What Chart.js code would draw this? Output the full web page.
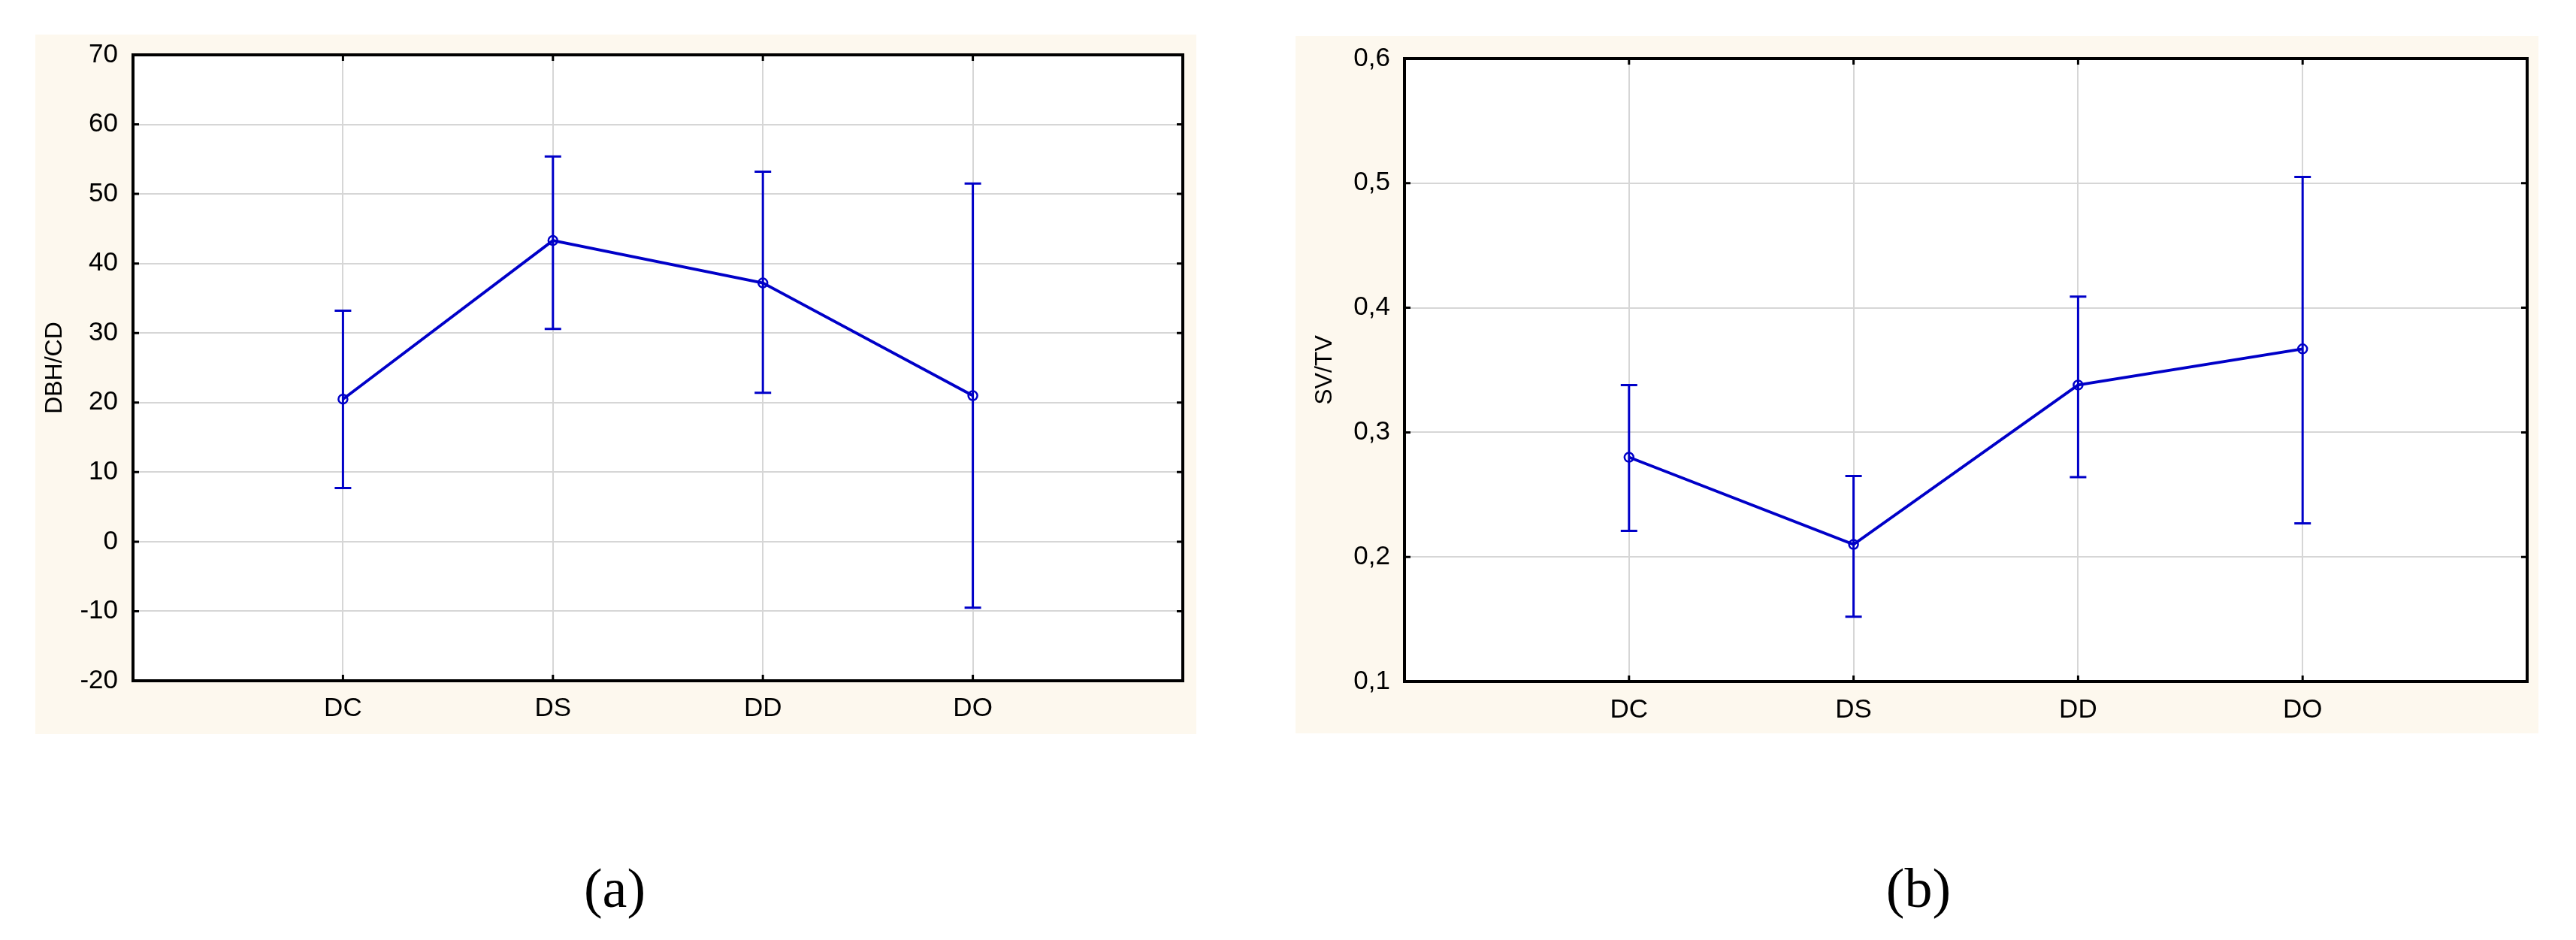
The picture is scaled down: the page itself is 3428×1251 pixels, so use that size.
<!DOCTYPE html>
<html>
<head>
<meta charset="utf-8">
<script src="https://cdn.jsdelivr.net/npm/chart.js@4.4.0/dist/chart.umd.min.js"></script>
<style>
  body { margin: 0; background: #fff; width: 3428px; height: 1251px; position: relative; overflow: hidden; }
  canvas { position: absolute; }
  #chartA { left: 47px; top: 46px; }
  #chartB { left: 1724px; top: 48px; }
  .cap { position: absolute; top: 1182px; transform: translate(-50%, -50%); font-family: "Liberation Serif", serif; font-size: 74px; color: #000; }
</style>
</head>
<body>
<canvas id="chartA" width="1545" height="931"></canvas>
<canvas id="chartB" width="1654" height="928"></canvas>
<div class="cap" style="left:818px">(a)</div>
<div class="cap" style="left:2553px">(b)</div>

<script>
const categories = ["DC", "DS", "DD", "DO"];

// panel (a) DBH/CD
const dbhMean = [20.5, 43.3, 37.2, 21.0];
const dbhUpper = [33.2, 55.4, 53.2, 51.5];
const dbhLower = [7.7, 30.6, 21.4, -9.5];
const dbhTicks = [-20, -10, 0, 10, 20, 30, 40, 50, 60, 70];

// panel (b) SV/TV
const svMean = [0.280, 0.210, 0.338, 0.367];
const svUpper = [0.338, 0.265, 0.409, 0.505];
const svLower = [0.221, 0.152, 0.264, 0.227];
const svTicks = [0.1, 0.2, 0.3, 0.4, 0.5, 0.6];

const BLUE = "#0000c8";
const CREAM = "#fdf8ee";
const GRID = "#d6d6d6";

// cream panel behind, white plot area, black frame and inner tick marks
const frame = {
  id: "frame",
  beforeDraw(chart) {
    const { ctx, chartArea: a } = chart;
    ctx.save();
    ctx.fillStyle = CREAM;
    ctx.fillRect(0, 0, chart.width, chart.height);
    ctx.fillStyle = "#fff";
    ctx.fillRect(a.left, a.top, a.right - a.left, a.bottom - a.top);
    ctx.restore();
  },
  afterDraw(chart) {
    const { ctx, chartArea: a, scales: { x, y } } = chart;
    ctx.save();
    ctx.strokeStyle = "#000";
    ctx.lineWidth = 3;
    ctx.beginPath();
    y.ticks.forEach(t => {
      const py = y.getPixelForValue(t.value);
      ctx.moveTo(a.left, py); ctx.lineTo(a.left + 8, py);
      ctx.moveTo(a.right, py); ctx.lineTo(a.right - 8, py);
    });
    x.ticks.forEach(t => {
      const px = x.getPixelForValue(t.value);
      ctx.moveTo(px, a.top); ctx.lineTo(px, a.top + 8);
      ctx.moveTo(px, a.bottom); ctx.lineTo(px, a.bottom - 8);
    });
    ctx.stroke();
    ctx.lineWidth = 4;
    ctx.strokeRect(a.left, a.top, a.right - a.left, a.bottom - a.top);
    ctx.restore();
  }
};

const errorBars = {
  id: "errorBars",
  afterDatasetsDraw(chart, args, opts) {
    const { ctx, scales: { x, y } } = chart;
    ctx.save();
    ctx.strokeStyle = BLUE;
    ctx.lineWidth = 3;
    ctx.beginPath();
    opts.lower.forEach((lo, i) => {
      const px = x.getPixelForValue(i + 1);
      const top = y.getPixelForValue(opts.upper[i]);
      const bot = y.getPixelForValue(lo);
      ctx.moveTo(px, top); ctx.lineTo(px, bot);
      ctx.moveTo(px - 11, top); ctx.lineTo(px + 11, top);
      ctx.moveTo(px - 11, bot); ctx.lineTo(px + 11, bot);
    });
    ctx.stroke();
    ctx.restore();
  }
};

function makeChart(id, cfg) {
  return new Chart(document.getElementById(id), {
    type: "line",
    data: {
      datasets: [{
        data: cfg.mean.map((v, i) => ({ x: i + 1, y: v })),
        borderColor: BLUE,
        borderWidth: 3.8,
        pointRadius: 6,
        pointBorderWidth: 2.5,
        pointBackgroundColor: "rgba(0,0,0,0)",
        pointBorderColor: BLUE,
        tension: 0
      }]
    },
    options: {
      responsive: false,
      animation: false,
      devicePixelRatio: 1,
      layout: { padding: cfg.padding },
      plugins: {
        legend: { display: false },
        tooltip: { enabled: false },
        errorBars: { upper: cfg.upper, lower: cfg.lower }
      },
      scales: {
        x: {
          type: "linear",
          min: 0,
          max: 5,
          afterBuildTicks: s => { s.ticks = categories.map((c, i) => ({ value: i + 1 })); },
          afterFit: s => { s.height = cfg.xHeight; },
          border: { display: false },
          grid: { color: GRID, lineWidth: 2, drawTicks: false },
          ticks: {
            padding: cfg.xPad,
            color: "#000",
            font: { family: "Liberation Sans", size: 35 },
            callback: v => categories[v - 1]
          }
        },
        y: {
          min: cfg.ticks[0],
          max: cfg.ticks[cfg.ticks.length - 1],
          afterBuildTicks: s => { s.ticks = cfg.ticks.map(v => ({ value: v })); },
          afterFit: s => {
            s.width = cfg.yWidth;
            s.paddingTop = 0;
            s.paddingBottom = 0;
          },
          border: { display: false },
          grid: { color: GRID, lineWidth: 2, drawTicks: false },
          ticks: {
            padding: cfg.yPad,
            color: "#000",
            font: { family: "Liberation Sans", size: 35 },
            callback: cfg.fmt
          },
          title: {
            display: true,
            text: cfg.title,
            color: "#000",
            padding: { top: cfg.titlePad, bottom: 0 },
            font: { family: "Liberation Sans", size: 32 }
          }
        }
      }
    },
    plugins: [frame, errorBars]
  });
}

makeChart("chartA", {
  mean: dbhMean, upper: dbhUpper, lower: dbhLower, ticks: dbhTicks,
  title: "DBH/CD", fmt: v => String(v),
  padding: { top: 27, right: 18, left: 0, bottom: 0 },
  xHeight: 71, yWidth: 130, xPad: 16, yPad: 20, titlePad: 7
});

makeChart("chartB", {
  mean: svMean, upper: svUpper, lower: svLower, ticks: svTicks,
  title: "SV/TV", fmt: v => v.toFixed(1).replace(".", ","),
  padding: { top: 30, right: 15, left: 0, bottom: 0 },
  xHeight: 69, yWidth: 145, xPad: 17, yPad: 19, titlePad: 20
});
</script>
</body>
</html>
